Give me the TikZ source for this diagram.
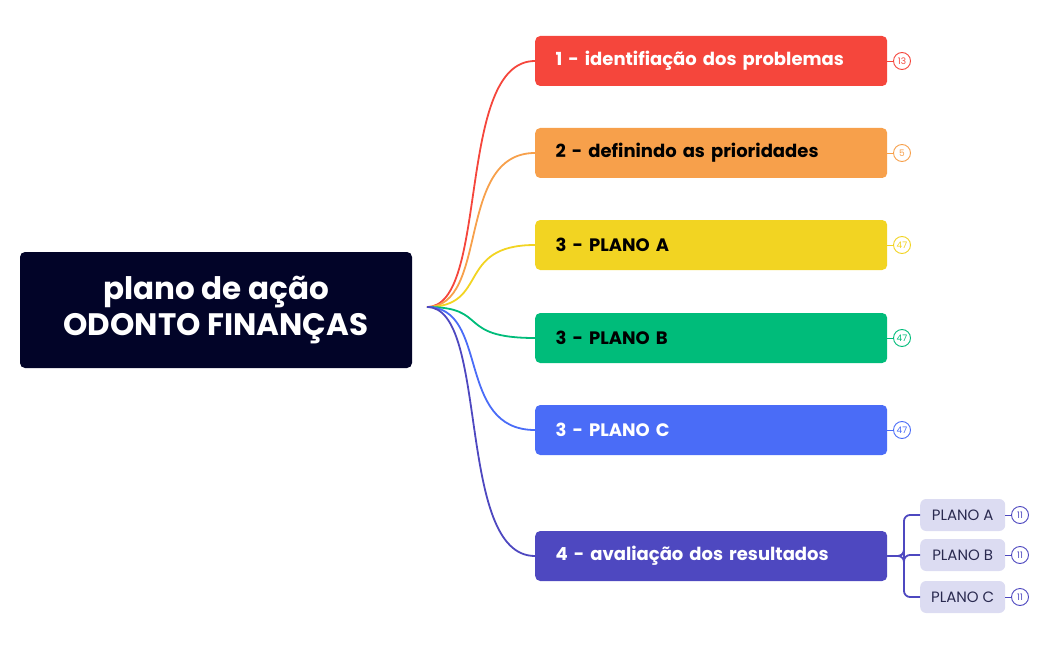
\documentclass[tikz,border=0pt]{standalone}
\usepackage{fontspec}
\setmainfont{Poppins}
\definecolor{cnavy}{HTML}{020428}
\definecolor{cred}{HTML}{F5463C}
\definecolor{corange}{HTML}{F7A04B}
\definecolor{cyellow}{HTML}{F2D422}
\definecolor{cgreen}{HTML}{00BC7A}
\definecolor{cblue}{HTML}{4A6CF7}
\definecolor{cpurple}{HTML}{4E48C0}
\definecolor{csub}{HTML}{DCDCF2}
\definecolor{csubtext}{HTML}{2A2A50}
\begin{document}
\begin{tikzpicture}[x=1pt,y=-1pt,
 branch/.style={rounded corners=5pt,minimum width=352pt,minimum height=50pt,anchor=west,text width=345pt,align=left,font=\fontsize{18}{21}\selectfont\bfseries,inner sep=0pt},
 cnt/.style={circle,draw,line width=0.9pt,fill=white,minimum size=17pt,inner sep=0pt,font=\fontsize{9}{10}\selectfont},
 sub/.style={rounded corners=6pt,fill=csub,minimum width=85pt,minimum height=32pt,anchor=west,inner sep=0pt,text=csubtext,font=\fontsize{15}{17}\selectfont},
 conn/.style={line width=1.8pt}]
\useasboundingbox (0,0) rectangle (1050,650);
\node[fill=cnavy,rounded corners=5pt,minimum width=392pt,minimum height=116pt,text=white,align=center,font=\fontsize{31}{36}\selectfont\bfseries] (root) at (216,310) {plano de ação\\ODONTO FINANÇAS};
\coordinate (o) at (427,307);
\foreach \n/\y/\c/\t/\tc/\k in {b1/61/cred/{1 - identifiação dos problemas}/white/13, b2/153/corange/{2 - definindo as prioridades}/black/5, b3/245/cyellow/{3 - PLANO A}/black/47, b4/338/cgreen/{3 - PLANO B}/black/47, b5/430/cblue/{3 - PLANO C}/white/47}{
 \draw[conn,draw=\c] (o) .. controls (490,307) and (455,\y) .. (535,\y);
 \node[branch,fill=\c,text=\tc] (\n) at (535,\y) {\hspace*{17pt}\t};
 \draw[line width=0.9pt,draw=\c] (\n.east) -- ++(6,0);
 \node[cnt,draw=\c,text=\c] (\n c) at (902,\y) {\k};
}
\draw[conn,draw=cpurple] (o) .. controls (490,307) and (455,556) .. (535,556);
\node[branch,fill=cpurple,text=white] (b6) at (535,556) {\hspace*{17pt}4 - avaliação dos resultados};
\foreach \n/\y/\t in {s1/515/PLANO A, s2/555/PLANO B, s3/597/PLANO C}{
 \node[sub] (\n) at (920,\y) {\t};
 \draw[conn,draw=cpurple,rounded corners=6pt] (b6.east) -- (904,556) -- (904,\y) -- (\n.west);
 \node[cnt,draw=cpurple,text=cpurple] (\n c) at (1020,\y) {11};
 \draw[line width=0.9pt,draw=cpurple] (\n.east) -- (\n c);
}
\end{tikzpicture}
\end{document}
